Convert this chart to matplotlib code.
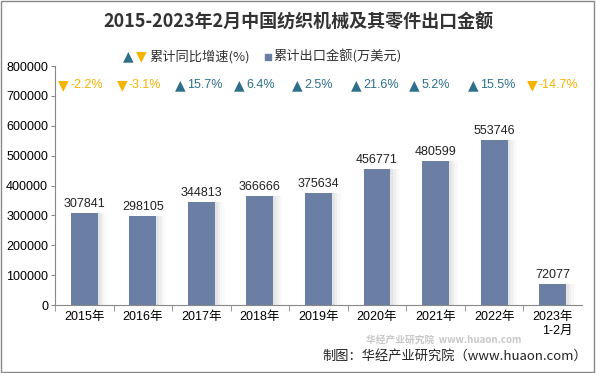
import matplotlib.pyplot as plt
from matplotlib.patches import Rectangle

plt.rcParams['font.family'] = ['Liberation Sans', 'Noto Sans CJK SC', 'DejaVu Sans']

years = ['2015年', '2016年', '2017年', '2018年', '2019年', '2020年', '2021年', '2022年', '2023年\n1-2月']
export_value = [307841, 298105, 344813, 366666, 375634, 456771, 480599, 553746, 72077]
growth = [-2.2, -3.1, 15.7, 6.4, 2.5, 21.6, 5.2, 15.5, -14.7]

bar_color = '#6b7ea3'
up_color = '#2f6f8c'
down_color = '#f4b400'
cjk = ['Noto Sans CJK SC', 'DejaVu Sans']
sym = ['DejaVu Sans']

fig = plt.figure(figsize=(5.96, 3.73), dpi=100)
ax = fig.add_axes([0.0923, 0.182, 0.884, 0.641])

x = list(range(len(years)))
# soft shadow on the right of the bars
for k, a in enumerate([0.10, 0.07, 0.04, 0.02]):
    ax.bar([i + 0.05 + k * 0.04 for i in x], export_value, width=0.46, color='#888888', alpha=a, zorder=1)
ax.bar(x, export_value, width=0.46, color=bar_color, zorder=2)

for i, v in enumerate(export_value):
    ax.text(i, v + 10000, str(v), ha='center', va='bottom', fontsize=9, color='#222222')

for i, g in enumerate(growth):
    if g >= 0:
        m, c = '▲', up_color
    else:
        m, c = '▼', down_color
    ax.annotate(m, (i, 735000), xytext=(-15, 0), textcoords='offset points', ha='center', va='center',
                fontsize=10, color=c, family=sym)
    ax.annotate('%.1f%%' % g, (i, 735000), xytext=(-10, 0), textcoords='offset points', ha='left',
                va='center', fontsize=9, color=c)

ax.set_xlim(-0.5, len(years) - 0.5)
ax.set_ylim(0, 800000)
ax.set_yticks(range(0, 800001, 100000))
ax.set_yticklabels([str(t) for t in range(0, 800001, 100000)], fontsize=9)
ax.set_xticks(x)
ax.set_xticklabels(years, fontsize=9, multialignment='right')
ax.set_xticks([i + 0.5 for i in x[:-1]] + [-0.5], minor=True)
ax.tick_params(axis='x', which='major', length=0, pad=4)
ax.tick_params(axis='x', which='minor', length=4, direction='out', color='#888888')
ax.tick_params(axis='y', length=3, direction='out', color='#888888', pad=2)
for sp in ['top', 'right']:
    ax.spines[sp].set_visible(False)
ax.spines['left'].set_color('#888888')
ax.spines['bottom'].set_color('#888888')

fig.text(0.5, 0.94, '2015-2023年2月中国纺织机械及其零件出口金额', ha='center', va='center',
         fontsize=13, fontweight='bold', color='#333333', family=cjk)

# legend
fig.text(0.207, 0.848, '▲', color=up_color, fontsize=10, ha='left', va='center', family=sym)
fig.text(0.228, 0.848, '▼', color=down_color, fontsize=10, ha='left', va='center', family=sym)
fig.text(0.251, 0.848, '累计同比增速(%)', color='#333333', fontsize=9.5, ha='left', va='center', family=cjk)
fig.add_artist(Rectangle((0.445, 0.840), 0.010, 0.016, transform=fig.transFigure, color=bar_color))
fig.text(0.459, 0.848, '累计出口金额(万美元)', color='#333333', fontsize=9.5, ha='left', va='center', family=cjk)

# watermark
fig.text(0.745, 0.088, '华经产业研究院  www.huaon.com', fontsize=7, color='#c8c8c8', ha='center',
         va='center', fontweight='bold', family=cjk)

fig.text(0.985, 0.045, '制图：华经产业研究院（www.huaon.com）', fontsize=9.5, color='#222222',
         ha='right', va='center', family=cjk)

fig.add_artist(Rectangle((0.002, 0.003), 0.995, 0.994, transform=fig.transFigure, fill=False,
                         edgecolor='#888888', linewidth=1))

fig.savefig('out.png', dpi=100)
